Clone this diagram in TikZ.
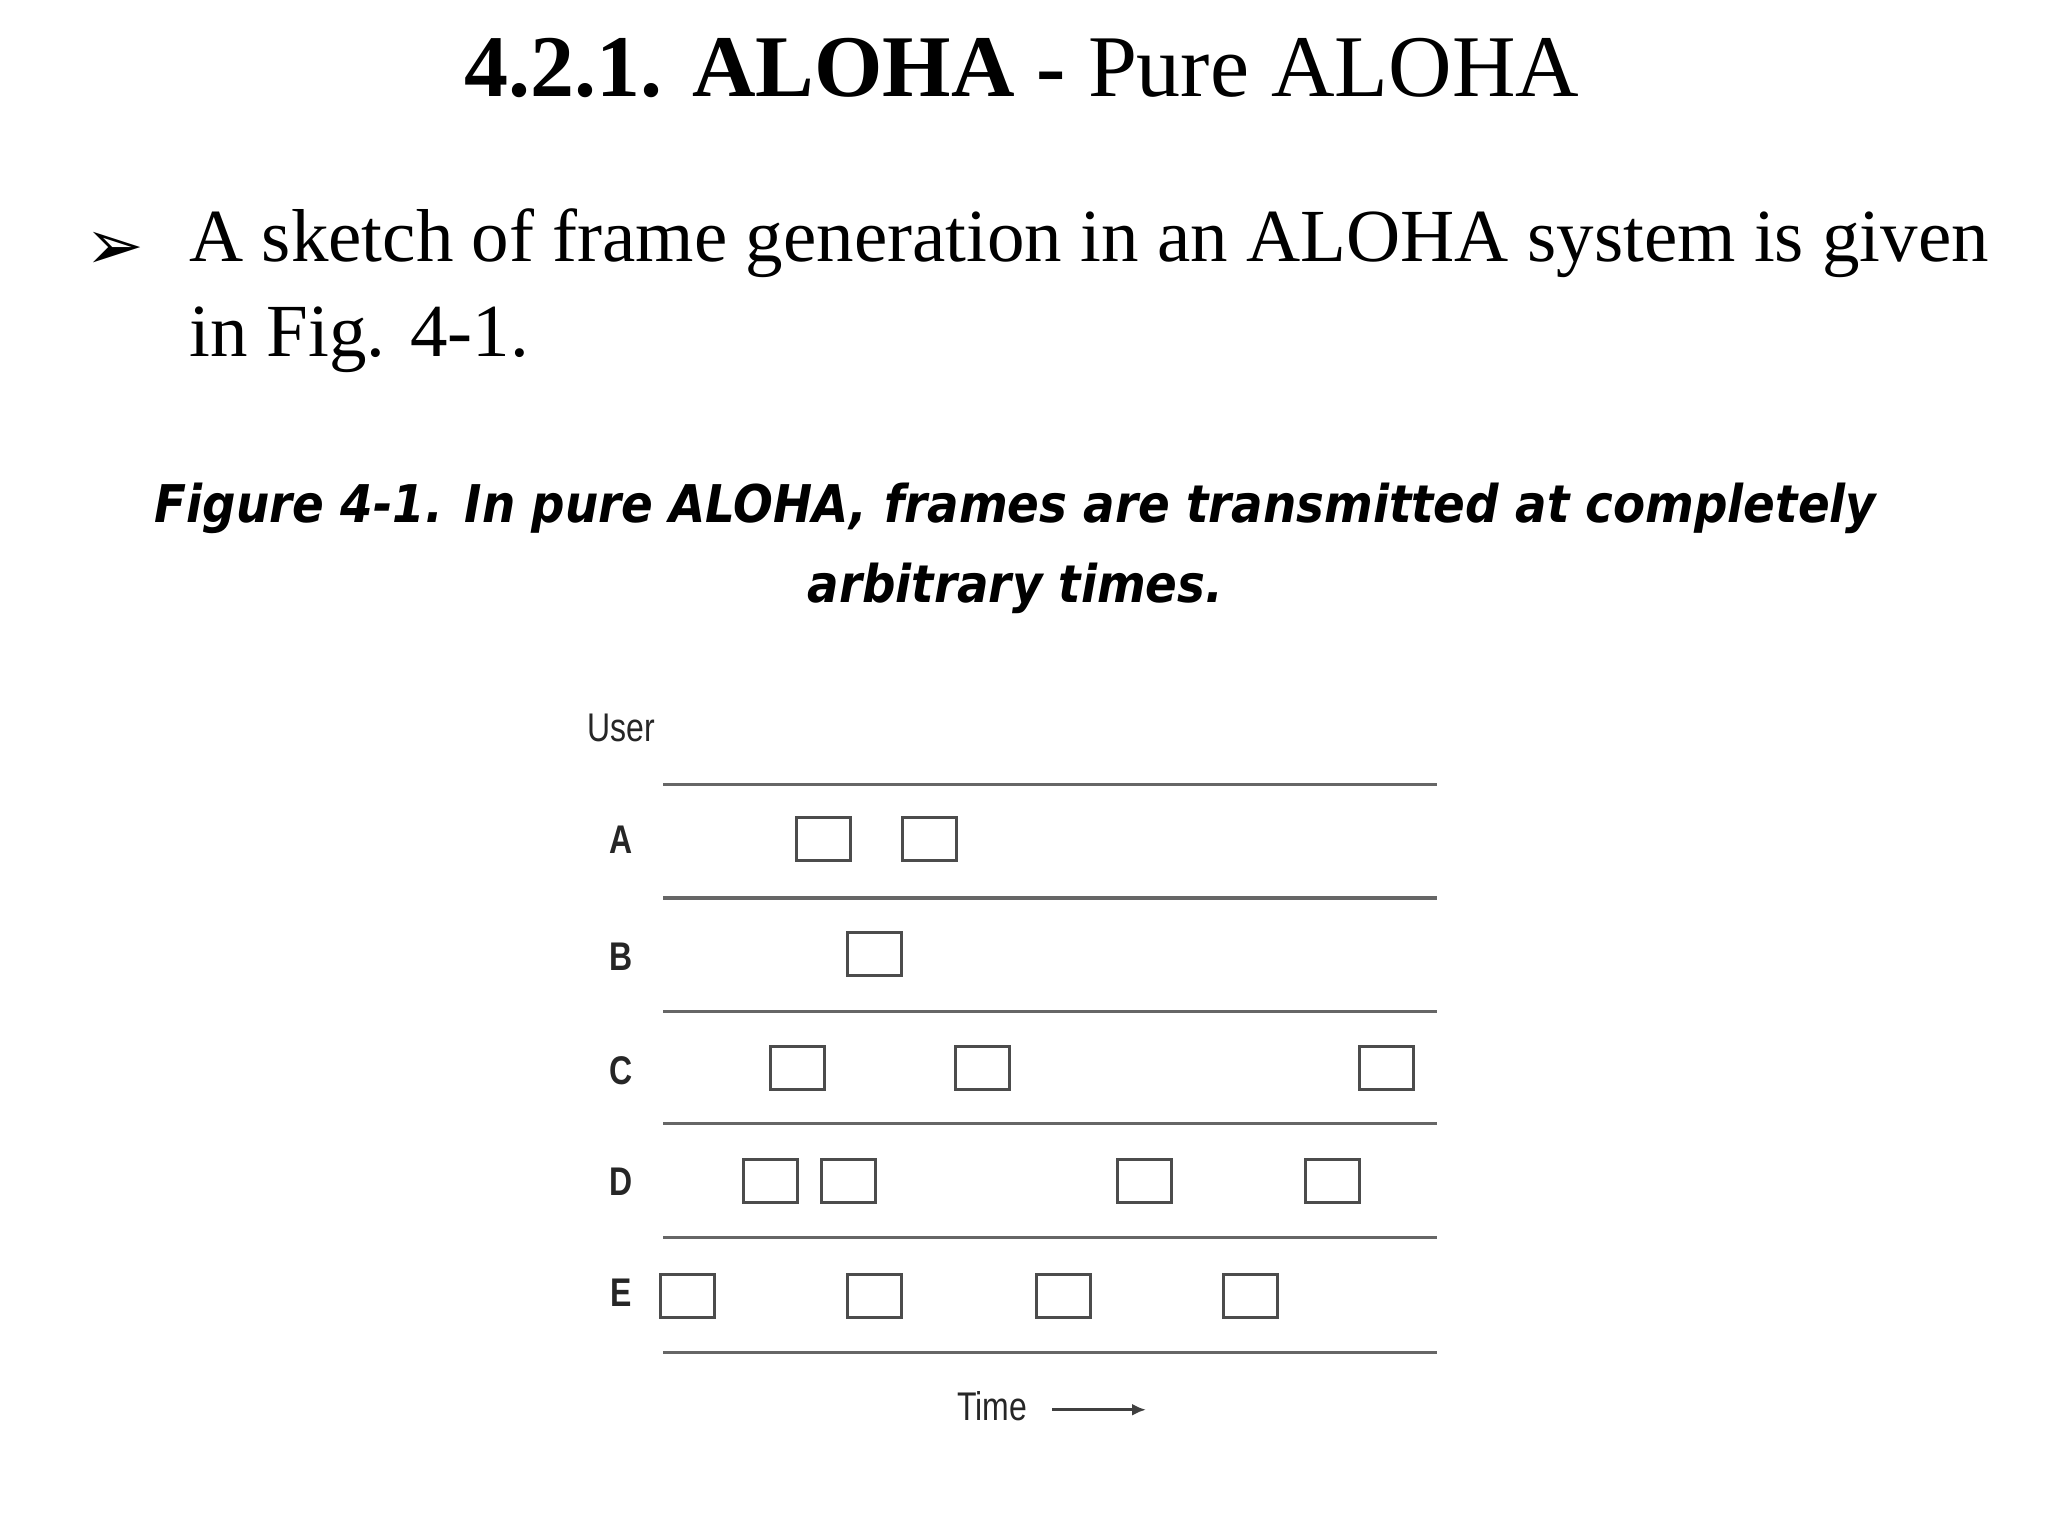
\documentclass[tikz,border=0pt]{standalone}
\usepackage{fontspec}
\setmainfont{Liberation Serif}
\newfontfamily\capfont{DejaVu Sans}
\newfontfamily\figfont{Liberation Sans}
\newfontfamily\symfont{DejaVu Sans}
\usetikzlibrary{arrows.meta}
\begin{document}
\begin{tikzpicture}[x=1.3056pt,y=-1.3056pt,
  lane/.style={draw=black!60,line width=3.2pt},
  frm/.style={draw=black!70,line width=3pt,fill=white,minimum width=54pt,minimum height=43pt,inner sep=0pt},
  lbl/.style={font=\figfont\fontsize{40}{40}\selectfont,text=black!85,inner sep=0pt}]
\useasboundingbox (0,0) rectangle (1569,1177);
\node[inner sep=0pt,font=\fontsize{88}{88}\selectfont] (title) at (783,52) {\textbf{4.2.1. ALOHA -} Pure ALOHA};
\node[inner sep=0pt,font=\symfont\fontsize{70}{70}\selectfont] (bul) at (88,192) {➢};
\node[inner sep=0pt,anchor=north west,text width=1800pt,align=justify,font=\fontsize{75}{95}\selectfont] (body) at (145,160) {A sketch of frame generation in an ALOHA system is given in Fig. 4-1.};
\node[inner sep=0pt,align=center,font=\capfont\bfseries\itshape\fontsize{52}{80}\selectfont] (cap) at (778,420) {\scalebox{0.9}[1]{Figure 4-1. In pure ALOHA, frames are transmitted at completely}\\\scalebox{0.9}[1]{arbitrary times.}};
\node[lbl] (user) at (476,558) {\scalebox{0.8}[1]{User}};
\foreach \y [count=\i] in {601,688,775,861,948,1036} \draw[lane] (508,\y) coordinate (l\i) -- (1101,\y);
\foreach \n/\y in {A/643,B/733,C/820,D/905,E/990} \node[lbl] (lab\n) at (476,\y) {\scalebox{0.8}[1]{\bfseries\n}};
\foreach \x [count=\i] in {631,712} \node[frm] (a\i) at (\x,643) {};
\node[frm] (b1) at (670,731) {};
\foreach \x [count=\i] in {611,753,1062} \node[frm] (c\i) at (\x,818) {};
\foreach \x [count=\i] in {590,650,877,1021} \node[frm] (d\i) at (\x,905) {};
\foreach \x [count=\i] in {527,670,815,958} \node[frm] (e\i) at (\x,993) {};
\node[lbl] (time) at (760,1077) {\scalebox{0.8}[1]{Time}};
\coordinate (t0) at (806,1080); \coordinate (t1) at (878,1080);
\draw[black!75,line width=3pt,-{Latex[length=14pt,width=12pt]}] (t0) -- (t1);
\end{tikzpicture}
\end{document}
